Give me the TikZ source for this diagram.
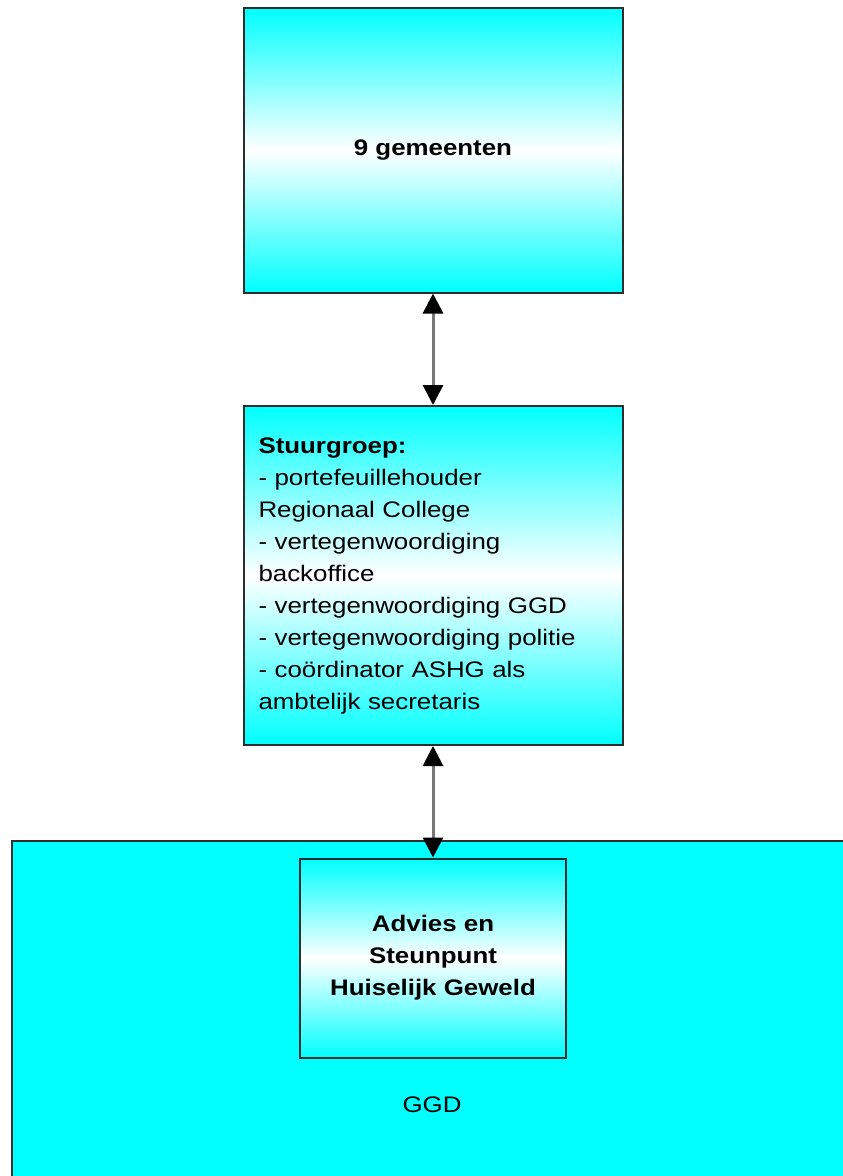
\documentclass[tikz,border=0pt]{standalone}
\usepackage{fontspec}
\setmainfont{Liberation Sans}[FakeStretch=1.15]
\usepackage{tikz}
\usetikzlibrary{arrows.meta, positioning, calc}
\definecolor{aqua}{RGB}{0,255,255}
\definecolor{rim}{RGB}{45,45,45}
\definecolor{shaft}{RGB}{120,120,120}

\begin{document}
\begin{tikzpicture}[x=1pt, y=-1pt,
        box/.style={draw=rim, line width=2pt, rectangle, inner sep=0pt, text=black,
            top color=aqua, bottom color=aqua, middle color=white,
            font=\fontsize{22.5}{32}\selectfont},
        link/.style={draw=shaft, line width=3pt,
            {Triangle[length=20pt, width=20pt, color=black]}-{Triangle[length=20pt, width=20pt, color=black]}}]
    \useasboundingbox (0,0) rectangle (843,1176);
    % GGD block, runs off the page
    \node[draw=rim, line width=2pt, fill=aqua, rectangle, inner sep=0pt, anchor=north west,
        minimum width=860pt, minimum height=360pt] (ggd) at (11,839.5) {};
    \node[font=\fontsize{22.5}{32}\selectfont, text=black] (ggdlabel) at (432,1105) {GGD};
    \node[box, minimum width=379pt, minimum height=285pt] (gem) at (433,150) {\bfseries 9 gemeenten};
    \node[box, minimum width=379pt, minimum height=339pt, text width=349pt, align=left, inner xsep=15pt] (stuur) at (433,575.5)
        {\textbf{Stuurgroep:}\\
        - portefeuillehouder\\
        Regionaal College\\
        - vertegenwoordiging\\
        backoffice\\
        - vertegenwoordiging GGD\\
        - vertegenwoordiging politie\\
        - coördinator ASHG als\\
        ambtelijk secretaris};
    \node[box, minimum width=266pt, minimum height=199pt, align=center,
        font=\fontsize{22.5}{32}\selectfont\bfseries] (ashg) at (433,958)
        {Advies en\\ Steunpunt\\ Huiselijk Geweld};
    \draw[link] (gem.south) -- (stuur.north);
    \draw[link] (stuur.south) -- (ashg.north);
\end{tikzpicture}
\end{document}
